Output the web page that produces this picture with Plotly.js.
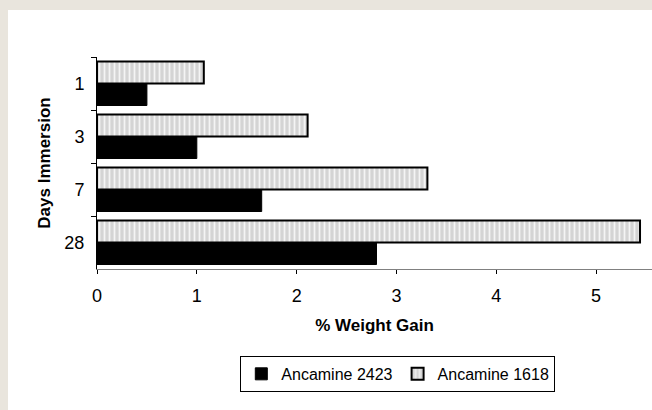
<!DOCTYPE html>
<html>
<head>
<meta charset="utf-8">
<script src="https://cdn.plot.ly/plotly-3.0.1.min.js"></script>
<style>
  html, body { margin: 0; padding: 0; background: #e9e5dd; width: 652px; height: 410px; overflow: hidden; }
  #chart { position: absolute; left: 8px; top: 10px; width: 644px; height: 400px; background: #fff; }
</style>
</head>
<body>
<div id="chart"></div>
<script>
const days = ['1', '3', '7', '28'];
const ancamine2423 = [0.50, 1.00, 1.65, 2.80];
const ancamine1618 = [1.07, 2.11, 3.31, 5.44];
const xTicks = [0, 1, 2, 3, 4, 5];

const FONT = 'Liberation Sans, Arial, sans-serif';

const traces = [
  {
    type: 'bar', orientation: 'h', name: 'Ancamine 1618',
    y: days, x: ancamine1618,
    marker: {
      color: '#dadada',
      line: { color: '#000', width: 2 },
      pattern: { shape: '|', fgcolor: '#f4f4f4', bgcolor: '#d4d4d4', size: 5, solidity: 0.35 }
    }
  },
  {
    type: 'bar', orientation: 'h', name: 'Ancamine 2423',
    y: days, x: ancamine2423,
    marker: { color: '#000', line: { color: '#000', width: 1 } }
  }
];

const layout = {
  width: 644, height: 400,
  margin: { l: 89, r: 0, t: 47, b: 141, pad: 0 },
  paper_bgcolor: '#fff', plot_bgcolor: '#fff',
  font: { family: FONT, size: 17, color: '#000' },
  barmode: 'group', bargap: 0.17, bargroupgap: 0,
  showlegend: true,
  legend: {
    orientation: 'h', traceorder: 'reversed',
    x: 0.542, xanchor: 'center', xref: 'paper',
    y: -0.495, yanchor: 'middle',
    bordercolor: '#000', borderwidth: 1, bgcolor: '#fff',
    font: { family: FONT, size: 16, color: '#000' },
    itemwidth: 30, tracegroupgap: 0
  },
  xaxis: {
    range: [0, 5.56], tickvals: xTicks, ticktext: xTicks.map(String),
    showgrid: false, zeroline: false,
    showline: true, linecolor: '#808080', linewidth: 1,
    ticks: 'outside', ticklen: 4, tickcolor: '#000', tickwidth: 1,
    tickfont: { family: FONT, size: 18, color: '#000' },
    ticklabelstandoff: 6,
    title: { text: '<b>% Weight Gain</b>', font: { family: FONT, size: 17, color: '#000' }, standoff: 14 },
    fixedrange: true
  },
  yaxis: {
    type: 'category', autorange: 'reversed',
    showgrid: false, zeroline: false,
    showline: true, linecolor: '#000', linewidth: 1,
    ticks: 'outside', tickson: 'boundaries', ticklen: 5, tickcolor: '#000', tickwidth: 1,
    tickfont: { family: FONT, size: 18, color: '#000' },
    ticklabelstandoff: 8,
    title: { text: '<b>Days Immersion</b>', font: { family: FONT, size: 17, color: '#000' }, standoff: 9 },
    fixedrange: true
  }
};

Plotly.newPlot('chart', traces, layout, { displayModeBar: false, staticPlot: true });
</script>
</body>
</html>
